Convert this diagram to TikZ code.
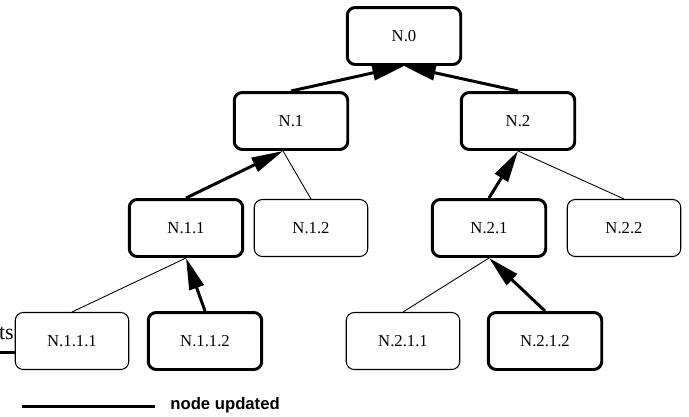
\documentclass[tikz,border=0pt]{standalone}
\usepackage{fontspec}
\setmainfont{Liberation Serif}
\setsansfont{Liberation Sans}
\newfontfamily\timesfont{Liberation Serif}
\newfontfamily\arialfont{Liberation Sans}
\usetikzlibrary{arrows.meta}

\begin{document}
\begin{tikzpicture}[x=0.02cm,y=-0.02cm,
  treenode/.style={draw=black,rounded corners=0.16cm,minimum width=2.27cm,minimum height=1.14cm,inner sep=0pt,font=\timesfont\fontsize{9.5}{11}\selectfont},
  updnode/.style={treenode,line width=1.7pt},
  oldnode/.style={treenode,line width=0.6pt},
  updedge/.style={black,line width=1.7pt,-{Triangle[length=18pt,width=8.5pt]}},
  oldedge/.style={black,line width=0.5pt}]
\useasboundingbox (0,0) rectangle (689,416);
% tree nodes
\node[updnode] (n0) at (404,36) {N.0};
\node[updnode] (n1) at (291,121) {N.1};
\node[updnode] (n2) at (518,121) {N.2};
\node[updnode] (n11) at (186,228) {N.1.1};
\node[oldnode] (n12) at (311,228) {N.1.2};
\node[updnode] (n21) at (489,228) {N.2.1};
\node[oldnode] (n22) at (624,228) {N.2.2};
\node[oldnode] (n111) at (72,341) {N.1.1.1};
\node[updnode] (n112) at (205,341) {N.1.1.2};
\node[oldnode] (n211) at (403,341) {N.2.1.1};
\node[updnode] (n212) at (545,341) {N.2.1.2};
% edges
\draw[updedge] (n1.north) -- (n0.south);
\draw[updedge] (n2.north) -- (n0.south);
\draw[updedge] (n11.north) -- ([xshift=-0.16cm]n1.south);
\draw[oldedge] ([xshift=-0.16cm]n1.south) -- (n12.north);
\draw[updedge] (n21.north) -- (n2.south);
\draw[oldedge] (n2.south) -- (n22.north);
\draw[updedge] (n112.north) -- (n11.south);
\draw[oldedge] (n11.south) -- (n111.north);
\draw[updedge] (n212.north) -- (n21.south);
\draw[oldedge] (n21.south) -- (n211.north);
% cut text at left
\node[font=\timesfont\fontsize{12.5}{14}\selectfont,anchor=base east,inner sep=0pt] (ts) at (14,339) {ts};
\coordinate (lstart) at (0,352);
\draw[line width=1.7pt] (lstart) -- (lstart -| n111.west);
% legend
\coordinate (legA) at (22,406);
\coordinate (legB) at (155,406);
\draw[line width=1.7pt] (legA) -- (legB);
\node[font=\arialfont\bfseries\fontsize{9.5}{11}\selectfont,anchor=west,inner sep=0pt] (legtext) at (170,405) {node updated};
\end{tikzpicture}
\end{document}
